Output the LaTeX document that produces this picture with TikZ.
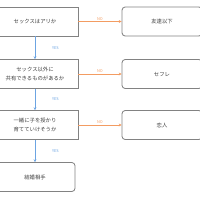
\documentclass[tikz,border=0pt]{standalone}
\usepackage{fontspec}
\setmainfont{Noto Sans CJK JP}
\usetikzlibrary{arrows.meta}

\definecolor{nocol}{RGB}{243,156,98}
\definecolor{yescol}{RGB}{108,164,226}
\definecolor{boxcol}{RGB}{130,130,130}
\definecolor{txtcol}{RGB}{60,60,60}

\begin{document}
\begin{tikzpicture}[x=0.05cm, y=-0.05cm,
    every node/.style={font=\fontsize{7.6pt}{13.5pt}\selectfont, text=txtcol},
    decide/.style={draw=boxcol, line width=1.2pt, minimum width=4.3cm, minimum height=1.45cm, align=center, inner sep=0pt},
    answer/.style={draw=boxcol, line width=1.2pt, rounded corners=1.6mm, minimum width=4cm, minimum height=1.45cm, align=center, inner sep=0pt},
    link/.style={-{Stealth[length=4pt,width=4pt]}, line width=0.9pt},
    nolab/.style={font=\fontsize{5.5pt}{6pt}\selectfont, text=nocol, inner sep=1.5pt},
    yeslab/.style={font=\fontsize{5.5pt}{6pt}\selectfont, text=yescol, inner sep=1pt}]
    \useasboundingbox (0,0) rectangle (200,200);
    \node[decide] (sex) at (35,21.5) {セックスはアリか};
    \node[decide] (share) at (35,74) {セックス以外に\\共有できるものがあるか};
    \node[decide] (child) at (35,125) {一緒に子を授かり\\育てていけそうか};
    \node[answer] (marry) at (35,177) {結婚相手};
    \node[answer] (friend) at (162,21.5) {友達以下};
    \node[answer] (sefure) at (162,74) {セフレ};
    \node[answer] (lover) at (162,125) {恋人};
    % NO branches
    \draw[link, nocol] (sex) -- node[nolab, above] (no1) {NO} (friend);
    \draw[link, nocol] (share) -- node[nolab, above] (no2) {NO} (sefure);
    \draw[link, nocol] (child) -- node[nolab, above] (no3) {NO} (lover);
    % YES branches
    \draw[link, yescol] (sex) -- node[yeslab, right=8mm] (yes1) {YES} (share);
    \draw[link, yescol] (share) -- node[yeslab, right=8mm] (yes2) {YES} (child);
    \draw[link, yescol] (child) -- node[yeslab, right=8mm] (yes3) {YES} (marry);
\end{tikzpicture}
\end{document}
